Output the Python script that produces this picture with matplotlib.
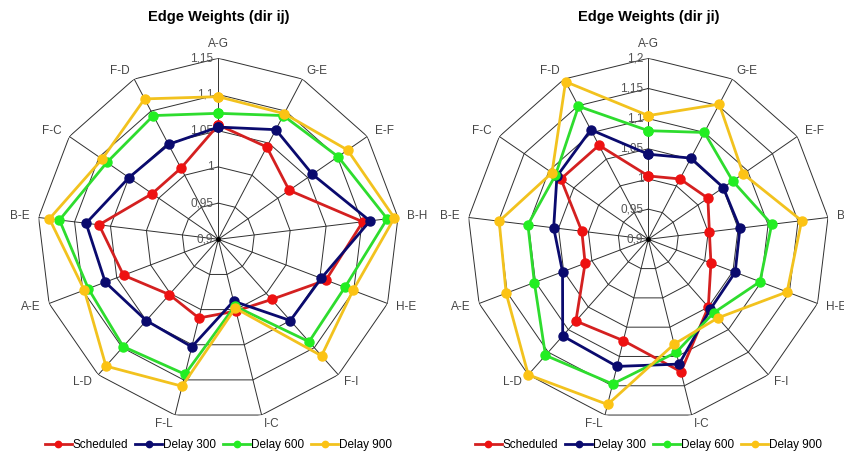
import numpy as np
import matplotlib
matplotlib.use("Agg")
import matplotlib.pyplot as plt

plt.rcParams['font.family'] = ['Liberation Sans', 'DejaVu Sans']

# edges around the radar, clockwise from the top
edges = ['A-G', 'G-E', 'E-F', 'B-H', 'H-E', 'F-I', 'I-C',
         'F-L', 'L-D', 'A-E', 'B-E', 'F-C', 'F-D']

series_names = ['Scheduled', 'Delay 300', 'Delay 600', 'Delay 900']

# direction i -> j
ij_scheduled = [1.058, 1.044, 1.019, 1.101, 1.059, 1.011, 1.002, 1.012, 1.002, 1.040, 1.066, 1.011, 1.011]
ij_delay300 = [1.055, 1.071, 1.058, 1.111, 1.052, 1.050, 0.988, 1.053, 1.050, 1.067, 1.084, 1.050, 1.048]
ij_delay600 = [1.074, 1.093, 1.101, 1.135, 1.087, 1.089, 0.995, 1.092, 1.098, 1.092, 1.121, 1.087, 1.093]
ij_delay900 = [1.097, 1.096, 1.117, 1.145, 1.099, 1.115, 0.998, 1.109, 1.134, 1.098, 1.135, 1.095, 1.119]

# direction j -> i
ji_scheduled = [1.005, 1.013, 1.020, 1.002, 1.011, 1.050, 1.126, 1.073, 1.081, 1.012, 1.011, 1.076, 1.076]
ji_delay300 = [1.041, 1.052, 1.051, 1.053, 1.054, 1.055, 1.113, 1.117, 1.114, 1.052, 1.058, 1.084, 1.105]
ji_delay600 = [1.080, 1.100, 1.070, 1.106, 1.098, 1.063, 1.093, 1.147, 1.157, 1.102, 1.101, 1.087, 1.149]
ji_delay900 = [1.105, 1.153, 1.091, 1.156, 1.146, 1.074, 1.079, 1.182, 1.200, 1.152, 1.149, 1.094, 1.195]

ij_ticks = [0.9, 0.95, 1.0, 1.05, 1.1, 1.15]
ij_tick_labels = ['0,9', '0,95', '1', '1,05', '1,1', '1,15']
ji_ticks = [0.9, 0.95, 1.0, 1.05, 1.1, 1.15, 1.2]
ji_tick_labels = ['0,9', '0,95', '1', '1,05', '1,1', '1,15', '1,2']

line_colors = ['#d42020', '#0a0a6e', '#2edc2e', '#f2c21e']
marker_colors = ['#ee1111', '#0a0a6e', '#22ee22', '#fcc314']

W, H = 844, 453
fig = plt.figure(figsize=(W / 100, H / 100), dpi=100)

n = len(edges)
angles = np.arange(n) * 2 * np.pi / n
closed = np.append(angles, angles[0])


def radar(cx, cy, radius, title, data, ticks, tick_labels):
    ax = fig.add_axes([(cx - radius) / W, 1 - (cy + radius) / H,
                       2 * radius / W, 2 * radius / H], projection='polar')
    ax.set_theta_zero_location('N')
    ax.set_theta_direction(-1)
    ax.set_ylim(ticks[0], ticks[-1])
    ax.grid(False)
    ax.set_xticks([])
    ax.set_yticks([])
    ax.spines['polar'].set_visible(False)
    ax.patch.set_visible(False)

    # polygon rings and spokes
    for v in ticks[1:]:
        ax.plot(closed, [v] * (n + 1), color='#303030', lw=0.7, zorder=1)
    for a in angles:
        ax.plot([a, a], [ticks[0], ticks[-1]], color='#303030', lw=0.7, zorder=1)
    ax.plot([0], [ticks[0]], 'o', color='black', ms=2.5, zorder=1)

    for v, lab in zip(ticks, tick_labels):
        ax.annotate(lab, (0, v), xytext=(-5, 0), textcoords='offset pixels',
                    ha='right', va='center', fontsize=8.5, color='#555555')

    for a, lab in zip(angles, edges):
        s, c = np.sin(a), np.cos(a)
        if abs(s) < 0.1:
            ha = 'center'
        elif s > 0:
            ha = 'left'
        else:
            ha = 'right'
        off = 9
        dy = -c * off
        if c > 0.99:
            dy = -8
            va = 'bottom'
        else:
            va = 'center'
        ax.annotate(lab, (a, ticks[-1]), xytext=(s * off, -dy if va == 'center' else 8),
                    textcoords='offset pixels', ha=ha, va=va,
                    fontsize=8.5, color='#444444')

    handles = []
    for k, vals in enumerate(data):
        r = np.append(vals, vals[0])
        h, = ax.plot(closed, r, color=line_colors[k], lw=2.0, marker='o', ms=6.5,
                     mfc=marker_colors[k], mec=marker_colors[k], zorder=3 + k,
                     clip_on=False)
        handles.append(h)

    fig.text(cx / W, 1 - 17 / H, title, ha='center', va='center',
             fontsize=10.5, fontweight='bold')
    fig.legend(handles, series_names, loc='center', bbox_to_anchor=(cx / W, 1 - 445 / H),
               ncol=4, frameon=False, fontsize=8.5, handlelength=2.3,
               handletextpad=0.05, columnspacing=0.6, numpoints=1, markerscale=0.7)


radar(218.3, 239.3, 181, 'Edge Weights (dir ij)',
      [ij_scheduled, ij_delay300, ij_delay600, ij_delay900], ij_ticks, ij_tick_labels)
radar(648.3, 239.3, 181, 'Edge Weights (dir ji)',
      [ji_scheduled, ji_delay300, ji_delay600, ji_delay900], ji_ticks, ji_tick_labels)

fig.savefig('out.png', dpi=100)
